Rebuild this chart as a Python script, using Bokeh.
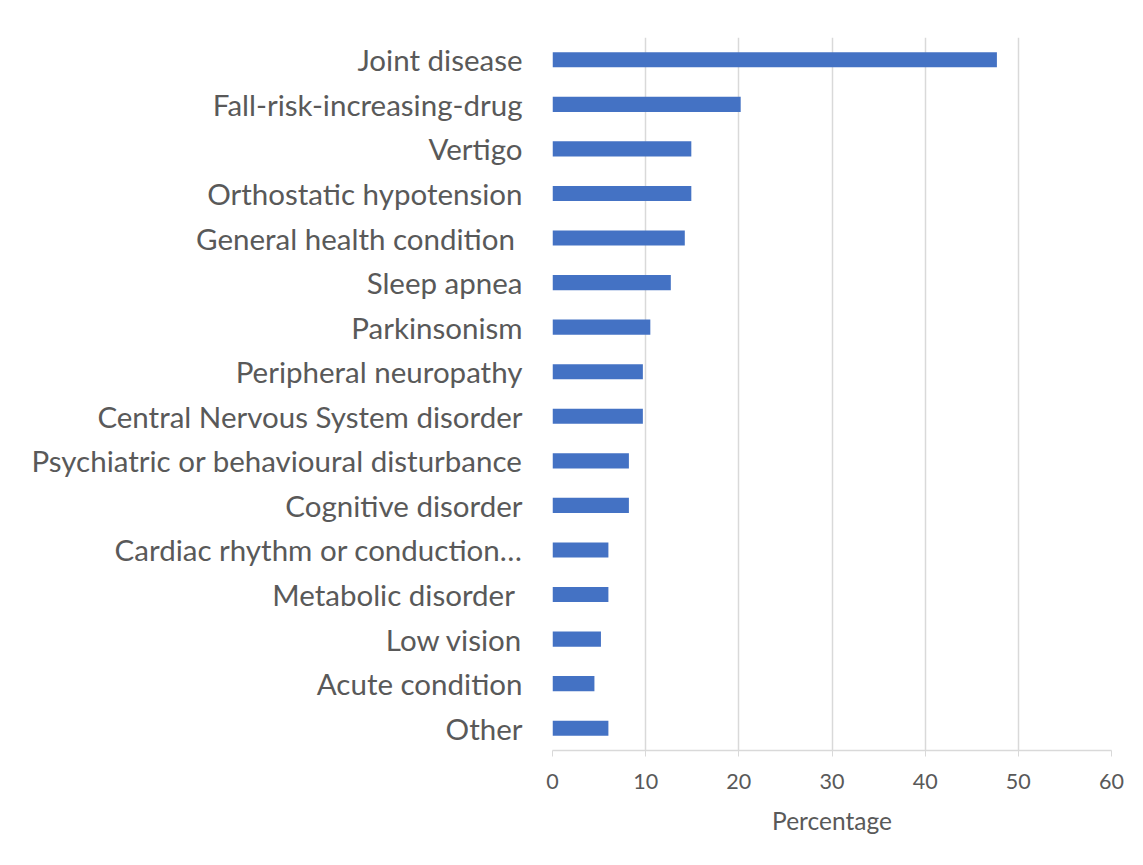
from bokeh.plotting import figure
from bokeh.models import FactorRange, ColumnDataSource
from bokeh.embed import file_html
from bokeh.resources import INLINE

categories = [
    "Joint disease",
    "Fall-risk-increasing-drug",
    "Vertigo",
    "Orthostatic hypotension",
    "General health condition ",
    "Sleep apnea",
    "Parkinsonism",
    "Peripheral neuropathy",
    "Central Nervous System disorder",
    "Psychiatric or behavioural disturbance",
    "Cognitive disorder",
    "Cardiac rhythm or conduction\u2026",
    "Metabolic disorder ",
    "Low vision",
    "Acute condition",
    "Other",
]
percentages = [47.7, 20.2, 14.9, 14.9, 14.2, 12.7, 10.5, 9.7, 9.7, 8.2, 8.2, 6.0, 6.0, 5.2, 4.5, 6.0]
x_ticks = [0, 10, 20, 30, 40, 50, 60]
x_title = "Percentage"

src = ColumnDataSource(dict(cat=categories, val=percentages))

p = figure(
    width=1127, height=849,
    y_range=FactorRange(*reversed(categories)),
    x_range=(0, 60),
    output_backend="svg", toolbar_location=None,
    min_border_left=552, min_border_right=16, min_border_top=37, min_border_bottom=99,
)
p.hbar(y="cat", right="val", left=0, height=0.34, source=src,
       fill_color="#4472C4", line_color=None)

p.outline_line_color = None
p.ygrid.grid_line_color = None
p.xgrid.grid_line_color = "#d9d9d9"
p.xgrid.grid_line_width = 1.5
p.xaxis.ticker = x_ticks
p.xaxis.axis_line_color = "#d9d9d9"
p.xaxis.axis_line_width = 1.5
p.xaxis.major_tick_line_color = "#d9d9d9"
p.xaxis.major_tick_in = 0
p.xaxis.major_tick_out = 6
p.xaxis.minor_tick_line_color = None
p.xaxis.major_label_text_font = "Lato"
p.xaxis.major_label_text_font_size = "21.5px"
p.xaxis.major_label_text_color = "#595959"
p.xaxis.major_label_standoff = 17
p.xaxis.axis_label = x_title
p.xaxis.axis_label_text_font = "Lato"
p.xaxis.axis_label_text_font_size = "24.5px"
p.xaxis.axis_label_text_font_style = "normal"
p.xaxis.axis_label_text_color = "#595959"
p.xaxis.axis_label_standoff = 14

p.yaxis.axis_line_color = None
p.yaxis.major_tick_line_color = None
p.yaxis.minor_tick_line_color = None
p.yaxis.major_label_text_font = "Lato"
p.yaxis.major_label_text_font_size = "29.5px"
p.yaxis.major_label_text_color = "#595959"
p.yaxis.major_label_standoff = 24

open("out.html", "w").write(file_html(p, INLINE))
